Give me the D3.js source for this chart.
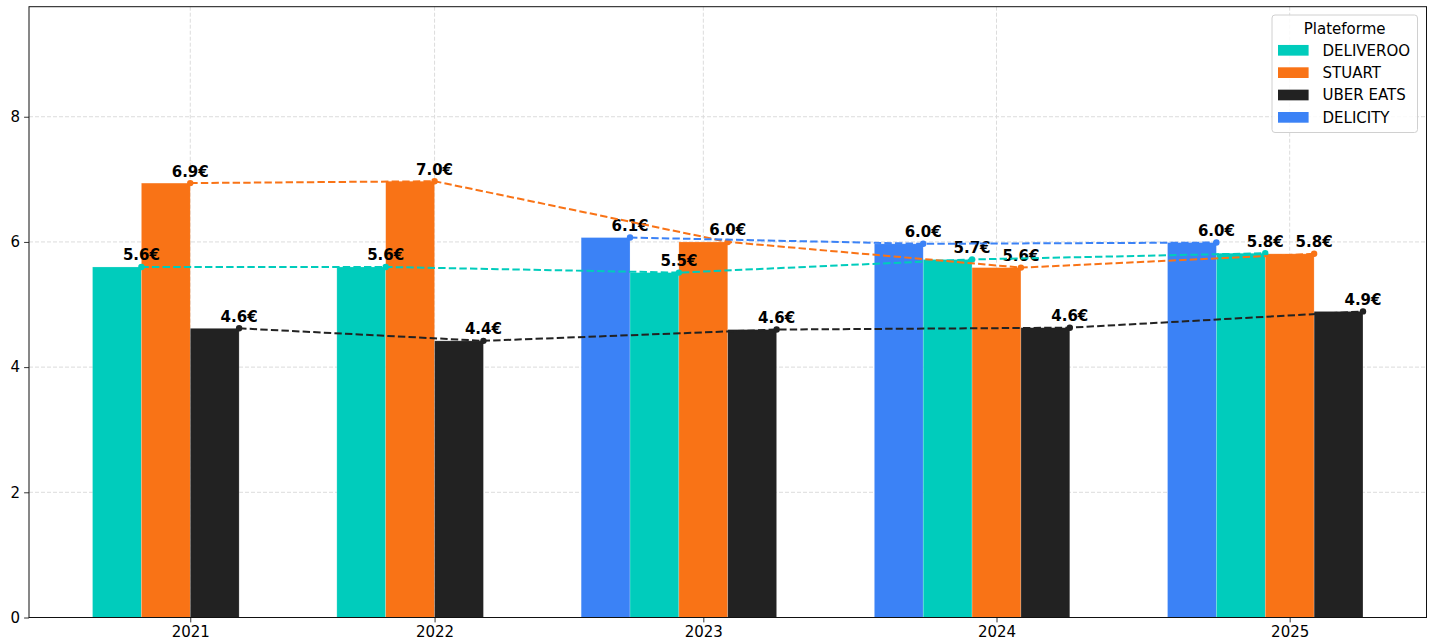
<!DOCTYPE html>
<html>
<head>
<meta charset="utf-8">
<script src="https://cdn.jsdelivr.net/npm/d3@7"></script>
<style>
  html, body { margin: 0; padding: 0; background: #fff; }
  svg { display: block; font-family: "DejaVu Sans", sans-serif; }
</style>
</head>
<body>
<svg id="chart" width="1430" height="642"></svg>
<script>
// ---- data ----
const years = ["2021", "2022", "2023", "2024", "2025"];
const platforms = ["DELIVEROO", "STUART", "UBER EATS", "DELICITY"];
const barOrder = ["DELICITY", "DELIVEROO", "STUART", "UBER EATS"];
const deliveroo = [5.60, 5.60, 5.51, 5.72, 5.82];
const stuart    = [6.94, 6.97, 6.00, 5.59, 5.81];
const uberEats  = [4.62, 4.42, 4.60, 4.63, 4.89];
const delicity  = [null, null, 6.07, 5.97, 5.99];
const yTicks = [0, 2, 4, 6, 8];
const colors = { "DELIVEROO": "#00CCBC", "STUART": "#F97316", "UBER EATS": "#222222", "DELICITY": "#3B82F6" };
const legendTitle = "Plateforme";

const seriesValues = { "DELIVEROO": deliveroo, "STUART": stuart, "UBER EATS": uberEats, "DELICITY": delicity };

// ---- layout ----
const W = 1430, H = 642;
const margin = { left: 29, right: 3.5, top: 6.7, bottom: 24.5 };
const iw = W - margin.left - margin.right;
const ih = H - margin.top - margin.bottom;
const svg = d3.select("#chart");
const g = svg.append("g").attr("transform", `translate(${margin.left},${margin.top})`);

// group positions in bar-width units, derived from number of platforms each year
const counts = years.map((y, k) => barOrder.filter(p => seriesValues[p][k] != null).length);
const gap = 2;
const groupPos = [0];
for (let k = 1; k < years.length; k++) {
  groupPos.push(groupPos[k - 1] + (counts[k - 1] + counts[k]) / 2 + gap);
}
// bars
const bars = [];
years.forEach((yr, k) => {
  const present = barOrder.filter(p => seriesValues[p][k] != null);
  const n = present.length;
  present.forEach((p, i) => {
    const c = groupPos[k] + (i - n / 2);
    bars.push({ platform: p, year: yr, k, center: c, value: seriesValues[p][k] });
  });
});
const minEdge = d3.min(bars, b => b.center - 0.5);
const maxEdge = d3.max(bars, b => b.center + 0.5);
const span = maxEdge - minEdge;
const x = d3.scaleLinear().domain([minEdge - 0.05 * span, maxEdge + 0.05 * span]).range([0, iw]);
const maxVal = d3.max(bars, b => b.value);
const y = d3.scaleLinear().domain([0, maxVal * 1.4]).range([ih, 0]);
const bw = x(1) - x(0);

// grid
g.append("g").selectAll("line").data(yTicks).join("line")
  .attr("x1", 0).attr("x2", iw)
  .attr("y1", d => y(d)).attr("y2", d => y(d))
  .attr("stroke", "#dcdcdc").attr("stroke-width", 1).attr("stroke-dasharray", "4,2");
g.append("g").selectAll("line").data(groupPos).join("line")
  .attr("x1", d => x(d)).attr("x2", d => x(d))
  .attr("y1", 0).attr("y2", ih)
  .attr("stroke", "#dcdcdc").attr("stroke-width", 1).attr("stroke-dasharray", "4,2");

// bars
g.append("g").selectAll("rect").data(bars).join("rect")
  .attr("x", d => x(d.center - 0.5))
  .attr("width", bw)
  .attr("y", d => y(d.value))
  .attr("height", d => y(0) - y(d.value))
  .attr("fill", d => colors[d.platform])
  .attr("stroke", "rgba(255,255,255,0.35)").attr("stroke-width", 0.6);

// value labels
g.append("g").selectAll("text").data(bars).join("text")
  .attr("x", d => x(d.center + 0.5))
  .attr("y", d => y(d.value) - 6.5)
  .attr("text-anchor", "middle")
  .attr("font-size", "15px").attr("font-weight", "bold").attr("fill", "#000")
  .text(d => d.value.toFixed(1) + "€");

// lines with markers
platforms.forEach(p => {
  const pts = bars.filter(b => b.platform === p).sort((a, b) => a.k - b.k);
  const line = d3.line().x(d => x(d.center + 0.5)).y(d => y(d.value));
  g.append("path").datum(pts)
    .attr("d", line).attr("fill", "none")
    .attr("stroke", colors[p]).attr("stroke-width", 2)
    .attr("stroke-dasharray", "7.4,3.2");
  g.append("g").selectAll("circle").data(pts).join("circle")
    .attr("cx", d => x(d.center + 0.5)).attr("cy", d => y(d.value))
    .attr("r", 3.2).attr("fill", colors[p]);
});

// axes
const xAxis = d3.axisBottom(x).tickValues(groupPos).tickFormat((d, i) => years[i]).tickSize(4.9).tickPadding(4);
const yAxis = d3.axisLeft(y).tickValues(yTicks).tickFormat(d3.format("d")).tickSize(4.9).tickPadding(4);
const gx = g.append("g").attr("transform", `translate(0,${ih})`).call(xAxis);
const gy = g.append("g").call(yAxis);
[gx, gy].forEach(a => {
  a.select(".domain").remove();
  a.selectAll("line").attr("stroke", "#000").attr("stroke-width", 0.8);
  a.selectAll("text").attr("font-size", "15px").attr("fill", "#000").attr("font-family", "DejaVu Sans, sans-serif");
});

// frame
g.append("rect").attr("x", 0).attr("y", 0).attr("width", iw).attr("height", ih)
  .attr("fill", "none").attr("stroke", "#111").attr("stroke-width", 1);

// legend
const lg = svg.append("g").attr("transform", "translate(1272,15)");
lg.append("rect").attr("width", 145.5).attr("height", 117.5).attr("rx", 3)
  .attr("fill", "rgba(255,255,255,0.85)").attr("stroke", "#d0d0d0").attr("stroke-width", 1);
lg.append("text").attr("x", 72.7).attr("y", 18.5).attr("text-anchor", "middle")
  .attr("font-size", "15px").attr("fill", "#000").text(legendTitle);
const rows = lg.selectAll("g.row").data(platforms).join("g").attr("class", "row")
  .attr("transform", (d, i) => `translate(0,${35.3 + i * 22.35})`);
rows.append("rect").attr("x", 6).attr("y", -5.35).attr("width", 30.6).attr("height", 10.7)
  .attr("fill", d => colors[d]);
rows.append("text").attr("x", 50.5).attr("y", 0).attr("dy", "0.36em")
  .attr("font-size", "15px").attr("fill", "#000").text(d => d);
</script>
</body>
</html>
